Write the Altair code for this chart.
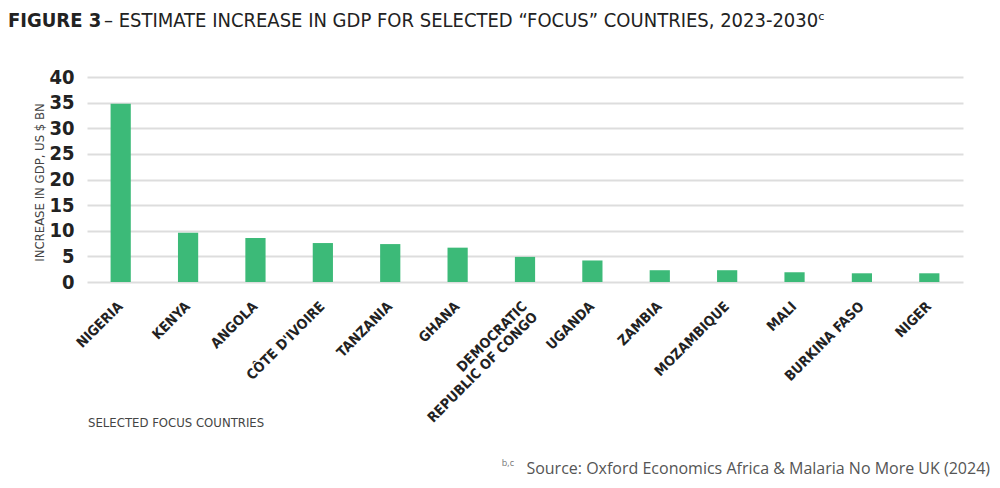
import altair as alt
import pandas as pd

countries = ["NIGERIA", "KENYA", "ANGOLA", "CÔTE D'IVOIRE", "TANZANIA", "GHANA",
             "DEMOCRATIC REPUBLIC OF CONGO", "UGANDA", "ZAMBIA", "MOZAMBIQUE", "MALI",
             "BURKINA FASO", "NIGER"]
gdp_increase = [34.8, 9.6, 8.6, 7.6, 7.4, 6.7, 4.9, 4.2, 2.3, 2.3, 1.9, 1.7, 1.7]
y_ticks = [0, 5, 10, 15, 20, 25, 30, 35, 40]

title_bold = "FIGURE 3"
title_rest = "– ESTIMATE INCREASE IN GDP FOR SELECTED “FOCUS” COUNTRIES, 2023-2030ᶜ"
source_note = "Source: Oxford Economics Africa & Malaria No More UK (2024)"

FONT = "DejaVu Sans Condensed, sans-serif"

df = pd.DataFrame({"Country": countries, "GDP": gdp_increase})

bars = alt.Chart(df).mark_bar(color="#3cba78").encode(
    x=alt.X("Country:N", sort=countries, title=None,
            scale=alt.Scale(paddingInner=0.7, paddingOuter=0.35),
            axis=alt.Axis(labelAngle=-45, labelAlign="right", labelBaseline="middle",
                          labelPadding=22, labelFont=FONT, labelFontSize=14, labelFontWeight="bold",
                          labelColor="#222222", domain=False, ticks=False, grid=False,
                          labelExpr="datum.value == 'DEMOCRATIC REPUBLIC OF CONGO' ? ['DEMOCRATIC', 'REPUBLIC OF CONGO'] : datum.label",
                          labelLineHeight=15, labelOverlap=False)),
    y=alt.Y("GDP:Q", scale=alt.Scale(domain=[0, 40], nice=False),
            axis=alt.Axis(values=y_ticks, title="INCREASE IN GDP, US $ BN", grid=True,
                          gridColor="#dddddd", gridWidth=2, domain=False, ticks=False,
                          labelFont=FONT, labelFontSize=20, labelFontWeight="bold",
                          labelColor="#222222", labelPadding=13,
                          titleFont=FONT, titleFontSize=13, titleFontWeight="normal",
                          titleColor="#444444", titleX=-44, titleY=105, titleAngle=-90,
                          titleAlign="center", titleBaseline="alphabetic")),
)

def label(txt, x, y, size, weight="normal", color="#222222", font=FONT, align="left"):
    return alt.Chart(pd.DataFrame({"t": [txt]})).mark_text(
        font=font, fontSize=size, fontWeight=weight, color=color, align=align, baseline="alphabetic"
    ).encode(x=alt.value(x), y=alt.value(y), text="t:N")

t1 = label(title_bold, -79, -50, 20, weight="bold")
t2 = label(title_rest, 17, -50, 20)
xt = label("SELECTED FOCUS COUNTRIES", 1, 350, 13, color="#444444")
src = label(source_note, 903, 397, 16, color="#555555", font="Open Sans", align="right")
sup = label("b,c", 427, 389, 9, color="#777777", font="Open Sans", align="right")

chart = alt.layer(bars, t1, t2, xt, src, sup).properties(
    width=876, height=205,
    autosize=alt.AutoSizeParams(type="none"),
    padding={"left": 79, "top": 69, "right": 28, "bottom": 196},
).configure_view(stroke=None)

chart.save("out.html", embed_options={"renderer": "svg", "actions": False})
